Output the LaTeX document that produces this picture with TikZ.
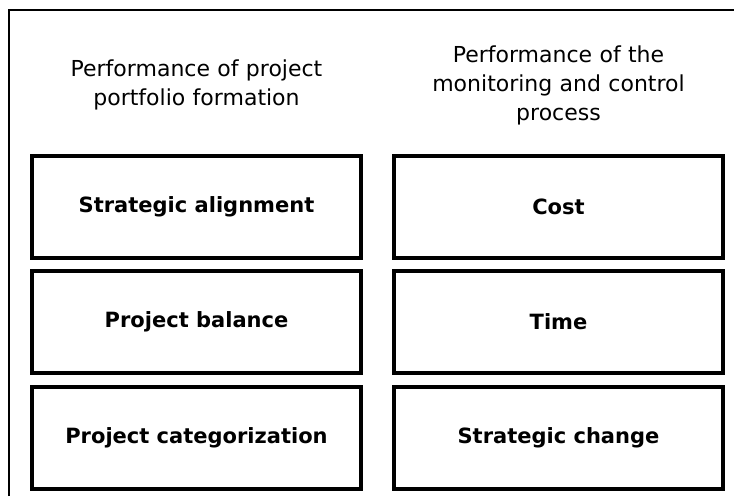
\documentclass[tikz,border=0pt]{standalone}
\usepackage{fontspec}
\setmainfont{DejaVu Sans}
\usetikzlibrary{positioning}
\tikzstyle{fBlock} = [rectangle, minimum width=329pt, minimum height=102pt, text centered, draw=black, line width=4pt, font=\fontsize{21}{25}\selectfont\bfseries]
\tikzstyle{fHeading} = [text width=330pt, align=center, font=\fontsize{22}{29}\selectfont]
\tikzstyle{fFrame} = [line width=2pt]

\begin{document}
\begin{tikzpicture}[node distance=115.5pt]
    \useasboundingbox (0,0) rectangle (734pt,-496pt);
    \node (alignment) [fBlock] at (196.5pt,-206.5pt) {Strategic alignment};
    \node (balance) [fBlock, below of=alignment] {Project balance};
    \node (categorization) [fBlock, below of=balance] {Project categorization};
    \node (cost) [fBlock, right of=alignment, xshift=246.5pt] {Cost};
    \node (time) [fBlock, below of=cost] {Time};
    \node (change) [fBlock, below of=time] {Strategic change};
    \node (formation) [fHeading, above of=alignment, yshift=6pt] {Performance of project\\portfolio formation};
    \node (monitoring) [fHeading, above of=cost, yshift=6pt] {Performance of the\\monitoring and control\\process};

    \draw [fFrame] (9pt,-496pt) -- (9pt,-10pt) -- (734pt,-10pt);
\end{tikzpicture}
\end{document}
